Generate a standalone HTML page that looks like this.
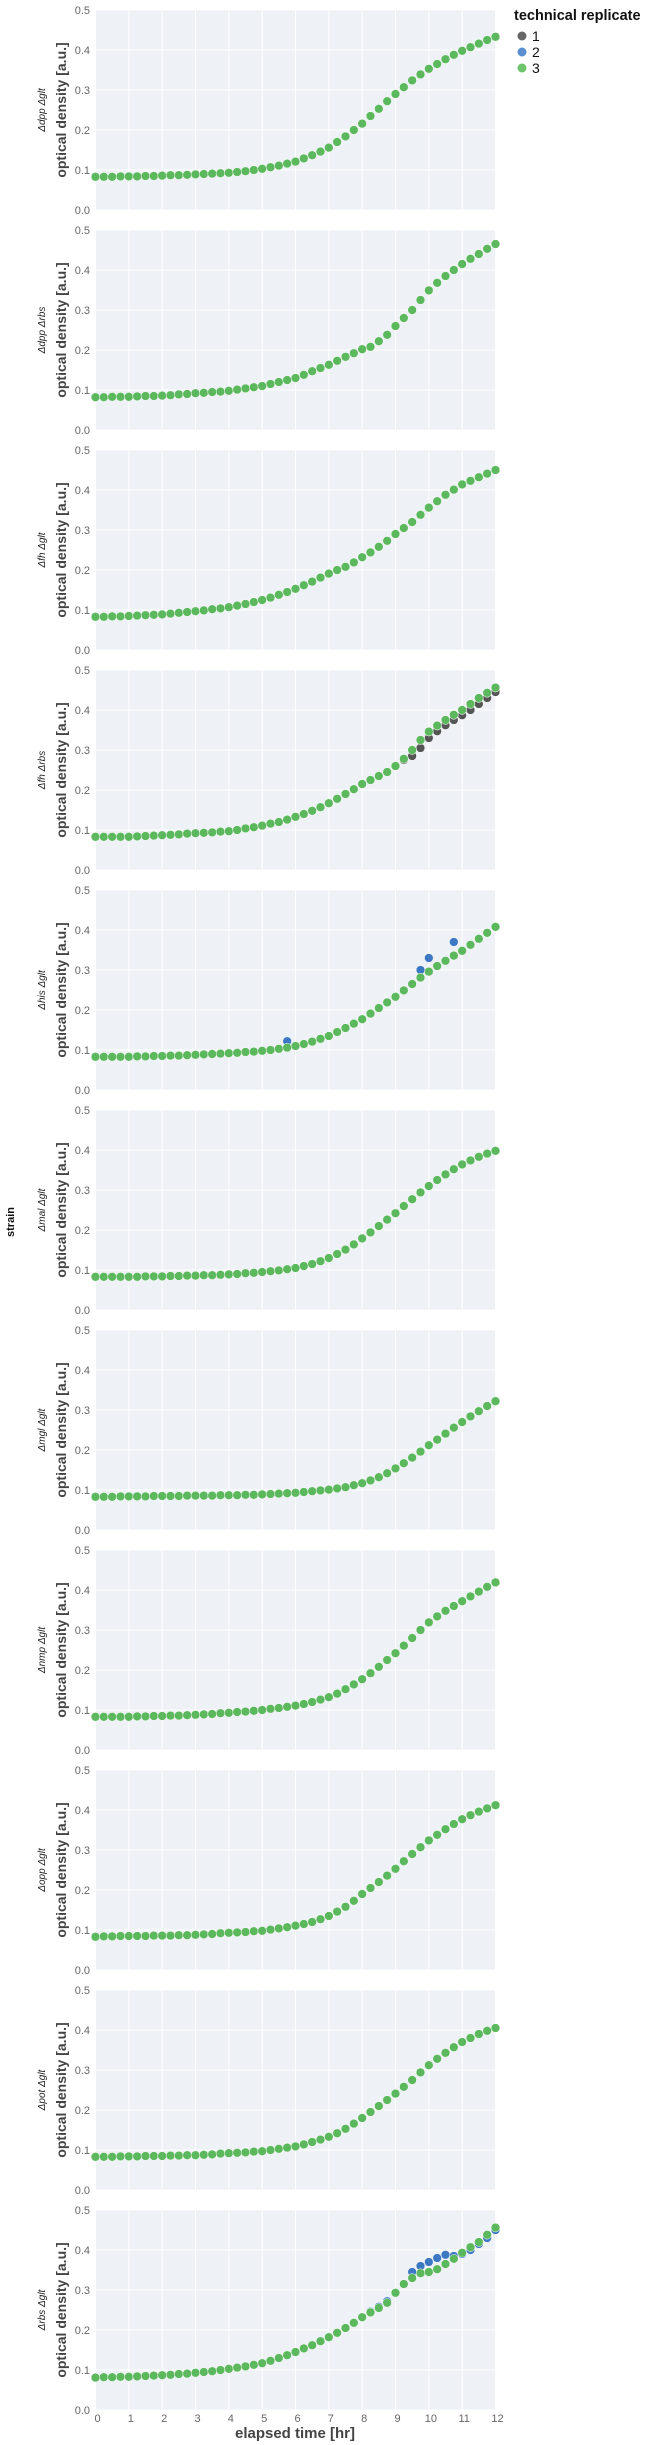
<!DOCTYPE html>
<html><head><meta charset="utf-8">
<style>
html,body{margin:0;padding:0;background:#fff;}
svg{display:block;font-family:"Liberation Sans",Arial,sans-serif;}
</style></head>
<body>
<svg id="chart" width="646" height="2445" viewBox="0 0 646 2445" xmlns="http://www.w3.org/2000/svg">
  <text x="0" y="0" transform="translate(14,1222) rotate(-90)" text-anchor="middle" font-size="11" font-weight="bold" fill="#111">strain</text>
  <g>
    <text x="514" y="20" font-size="14.5" font-weight="bold" fill="#111">technical replicate</text>
    <g><circle cx="522" cy="36" r="4.5" fill="#666"/><text x="532" y="41" font-size="14" fill="#111">1</text></g>
    <g><circle cx="522" cy="52" r="4.5" fill="#5b8fd0"/><text x="532" y="57" font-size="14" fill="#111">2</text></g>
    <g><circle cx="522" cy="68" r="4.5" fill="#6dc46d"/><text x="532" y="73" font-size="14" fill="#111">3</text></g>
  </g>
  <g id="panels"></g>
  <text x="295" y="2438" text-anchor="middle" font-size="15" font-weight="bold" fill="#444">elapsed time [hr]</text>
</svg>
<script>
// ---- data ----
const strains = ["Δdpp Δglt","Δdpp Δrbs","Δfh Δglt","Δfh Δrbs","Δhis Δglt","Δmal Δglt","Δmgl Δglt","Δnmp Δglt","Δopp Δglt","Δpot Δglt","Δrbs Δglt"];
const timeStepHr = 0.25;
const yTicks = [0.0,0.1,0.2,0.3,0.4,0.5];
const yTickLabels = ["0.0","0.1","0.2","0.3","0.4","0.5"];
const xTicks = [0,1,2,3,4,5,6,7,8,9,10,11,12];
const xTickLabels = ["0","1","2","3","4","5","6","7","8","9","10","11","12"];

const od1 = [.083,.083,.083,.084,.084,.084,.085,.085,.086,.087,.087,.088,.089,.090,.091,.092,.093,.095,.097,.100,.103,.107,.111,.116,.121,.129,.137,.146,.156,.170,.184,.200,.216,.235,.253,.272,.290,.307,.324,.339,.353,.365,.377,.388,.398,.407,.416,.425,.433];
const od2 = [.082,.082,.083,.083,.083,.084,.085,.085,.086,.087,.089,.090,.092,.093,.095,.096,.098,.101,.104,.107,.110,.115,.120,.125,.130,.138,.147,.155,.163,.173,.183,.192,.202,.208,.222,.238,.260,.280,.300,.325,.349,.368,.385,.400,.415,.428,.440,.453,.465];
const od3 = [.083,.083,.084,.084,.085,.086,.087,.088,.089,.091,.093,.095,.097,.099,.102,.104,.107,.111,.115,.120,.125,.131,.138,.145,.153,.162,.171,.181,.191,.200,.208,.219,.232,.244,.258,.273,.290,.305,.320,.338,.356,.372,.388,.401,.414,.423,.432,.441,.450];
const od4 = [.083,.083,.083,.083,.083,.084,.085,.086,.087,.088,.089,.091,.092,.093,.094,.096,.097,.100,.104,.107,.111,.116,.120,.126,.133,.140,.148,.157,.167,.178,.190,.202,.215,.225,.235,.245,.260,.278,.300,.325,.346,.361,.375,.388,.400,.415,.430,.443,.456];
const od4rep1 = [.083,.083,.083,.083,.083,.084,.085,.086,.087,.088,.089,.091,.092,.093,.094,.096,.097,.100,.104,.107,.111,.116,.120,.126,.133,.140,.148,.157,.167,.178,.190,.202,.215,.225,.235,.245,.260,.275,.285,.305,.330,.347,.362,.375,.387,.400,.415,.430,.445];
const od5 = [.083,.083,.083,.083,.083,.084,.084,.085,.085,.086,.086,.087,.088,.089,.090,.091,.092,.093,.095,.096,.098,.100,.103,.106,.110,.115,.121,.128,.135,.145,.155,.166,.177,.191,.205,.219,.233,.249,.265,.281,.296,.310,.323,.336,.348,.363,.378,.393,.408];
const od5rep2 = [.083,.083,.083,.083,.083,.084,.084,.085,.085,.086,.086,.087,.088,.089,.090,.091,.092,.093,.095,.096,.098,.100,.103,.122,.110,.115,.121,.128,.135,.145,.155,.166,.177,.191,.205,.219,.233,.249,.265,.300,.330,.310,.323,.370,.348,.363,.378,.393,.408];
const od6 = [.083,.083,.083,.083,.083,.083,.084,.084,.084,.085,.085,.086,.086,.087,.087,.088,.089,.090,.092,.093,.095,.097,.099,.102,.105,.110,.115,.122,.130,.140,.151,.164,.179,.194,.210,.226,.242,.260,.277,.294,.310,.325,.339,.352,.364,.374,.383,.391,.398];
const od7 = [.083,.083,.083,.084,.084,.084,.084,.085,.085,.085,.085,.086,.086,.086,.086,.087,.087,.087,.088,.088,.089,.090,.091,.092,.093,.095,.097,.099,.101,.104,.107,.112,.117,.124,.132,.142,.154,.167,.181,.196,.212,.226,.241,.256,.270,.284,.297,.310,.322];
const od8 = [.083,.083,.083,.083,.083,.084,.084,.085,.085,.086,.086,.087,.088,.089,.090,.092,.093,.095,.096,.098,.100,.103,.105,.108,.111,.115,.120,.126,.132,.141,.152,.164,.177,.192,.208,.225,.242,.261,.280,.300,.319,.334,.348,.360,.372,.384,.396,.408,.419];
const od9 = [.083,.084,.084,.085,.085,.085,.085,.086,.086,.086,.087,.087,.088,.089,.090,.092,.093,.094,.095,.097,.098,.101,.104,.107,.111,.115,.120,.127,.135,.146,.158,.173,.190,.205,.220,.236,.253,.272,.290,.307,.324,.338,.352,.365,.377,.387,.396,.404,.412];
const od10 = [.083,.083,.083,.084,.084,.084,.085,.085,.085,.086,.086,.087,.087,.088,.089,.091,.092,.093,.094,.096,.097,.100,.103,.106,.109,.114,.120,.126,.133,.142,.153,.166,.180,.195,.210,.225,.241,.258,.275,.294,.312,.328,.343,.357,.370,.380,.390,.398,.405];
const od11 = [.081,.082,.082,.083,.083,.084,.085,.086,.087,.088,.090,.091,.093,.095,.097,.100,.103,.106,.109,.113,.117,.123,.130,.137,.145,.154,.162,.172,.182,.193,.205,.218,.232,.244,.255,.268,.293,.315,.330,.342,.345,.352,.365,.378,.393,.407,.420,.438,.456];
const od11rep2 = [.081,.082,.082,.083,.083,.084,.085,.086,.087,.088,.090,.091,.093,.095,.097,.100,.103,.106,.109,.113,.117,.123,.130,.137,.145,.154,.162,.172,.182,.193,.205,.218,.232,.246,.258,.272,.293,.315,.345,.360,.370,.380,.388,.385,.390,.400,.415,.430,.450];

const rep1Series = [od1,od2,od3,od4rep1,od5,od6,od7,od8,od9,od10,od11];
const rep2Series = [od1,od2,od3,od4,od5rep2,od6,od7,od8,od9,od10,od11rep2];
const rep3Series = [od1,od2,od3,od4,od5,od6,od7,od8,od9,od10,od11];

// ---- layout ----
const NS = "http://www.w3.org/2000/svg";
const plotL = 95.5, plotR = 495.5, panelTop0 = 10, panelH = 200, panelPitch = 220;
const xScale = t => plotL + (t / 12) * (plotR - plotL);
const yScale = (v, top) => top + panelH - (v / 0.5) * panelH;
function mk(tag, attrs, parent){const e=document.createElementNS(NS,tag);for(const k in attrs)e.setAttribute(k,attrs[k]);parent.appendChild(e);return e;}

const root = document.getElementById("panels");
const repColors = ["#555555","#3d78c4","#5cb85c"];
const allSeries = [rep1Series, rep2Series, rep3Series];

strains.forEach((name, i) => {
  const top = panelTop0 + i * panelPitch;
  const g = mk("g", {}, root);
  
  
  const bg = mk("rect", {x: plotL, y: top, width: plotR - plotL, height: panelH, fill: "#eef1f6"}, g);
  
  
  xTicks.forEach(t => {
    const l = mk("line", {x1: xScale(t), x2: xScale(t), y1: top, y2: top + panelH, stroke: "#fff", "stroke-width": 1}, g);
    
    
  });
  yTicks.forEach((v, k) => {
    const y = yScale(v, top);
    const l = mk("line", {x1: plotL, x2: plotR, y1: y, y2: y, stroke: "#fff", "stroke-width": 1}, g);
    
    
    const tx = mk("text", {x: 90, y: y + 4, "text-anchor": "end", "font-size": 11, fill: "#666"}, g);
    tx.textContent = yTickLabels[k];
    
    
  });
  const yl = mk("text", {transform: `translate(66,${top + panelH/2}) rotate(-90)`, "text-anchor": "middle", "font-size": 14, "font-weight": "bold", fill: "#444"}, g);
  yl.textContent = "optical density [a.u.]";
  
  
  const sl = mk("text", {transform: `translate(45,${top + panelH/2}) rotate(-90)`, "text-anchor": "middle", "font-size": 10, "font-style": "italic", fill: "#222"}, g);
  sl.textContent = name;
  
  
  allSeries.forEach((ser, r) => {
    const vals = ser[i];
    vals.forEach((v, j) => {
      const c = mk("circle", {cx: xScale(j * timeStepHr), cy: yScale(v, top), r: 4.4, fill: repColors[r], stroke: "#fff", "stroke-width": 0.5}, g);
      
      
    });
  });
  if (i === strains.length - 1) {
    xTicks.forEach((t, k) => {
      const tx = mk("text", {x: xScale(t) + 2, y: top + panelH + 12, "text-anchor": "middle", "font-size": 11, fill: "#666"}, g);
      tx.textContent = xTickLabels[k];
      
      
    });
  }
});
</script>
</body></html>
